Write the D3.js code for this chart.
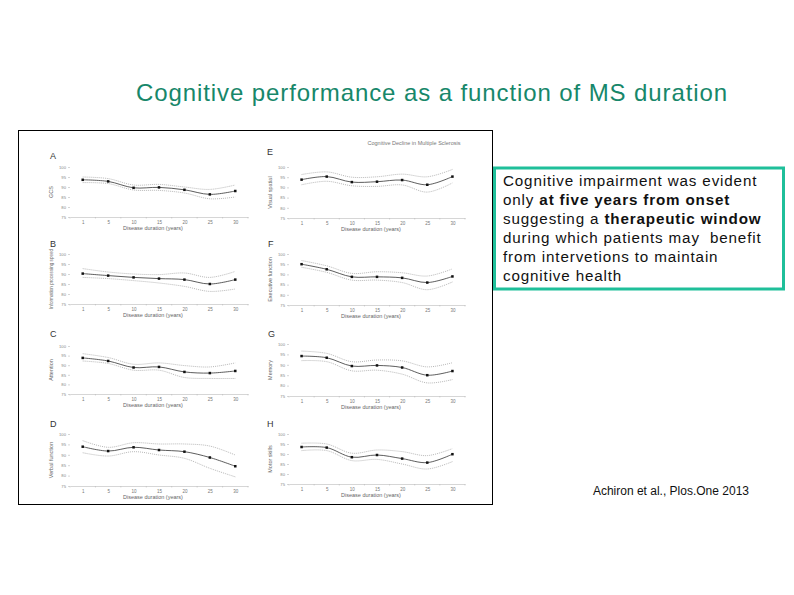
<!DOCTYPE html>
<html>
<head>
<meta charset="utf-8">
<script src="https://cdn.jsdelivr.net/npm/d3@7"></script>
<style>
  body { margin: 0; background: #fff; }
  svg { display: block; font-family: "Liberation Sans", Arial, sans-serif; }
</style>
</head>
<body>
<div id="chart"></div>
<script>
// categories and ticks
const years = ['1', '5', '10', '15', '20', '25', '30'];
const yTicks = [75, 80, 85, 90, 95, 100];

// A - global cognitive score
const gcsMean = [93.6, 92.8, 89.6, 89.8, 88.6, 86.3, 88.0];
const gcsUpper = [95.0, 94.2, 91.0, 91.3, 90.0, 88.8, 91.0];
const gcsLower = [92.2, 91.7, 88.5, 88.3, 87.0, 84.1, 85.0];
// B - information processing speed
const ipsMean = [90.2, 89.2, 88.3, 87.7, 87.2, 85.0, 87.2];
const ipsUpper = [92.7, 91.0, 90.0, 89.7, 90.5, 88.3, 91.3];
const ipsLower = [88.3, 87.7, 86.7, 85.5, 83.8, 81.3, 82.5];
// C - attention
const attMean = [93.8, 92.2, 88.8, 89.1, 86.5, 85.9, 87.0];
const attUpper = [96.0, 94.0, 90.5, 91.2, 89.8, 89.1, 91.2];
const attLower = [92.2, 90.9, 87.4, 87.4, 83.6, 83.1, 83.1];
// D - verbal function
const verMean = [93.9, 91.8, 93.6, 92.3, 91.5, 88.7, 84.5];
const verUpper = [96.8, 93.6, 95.8, 95.2, 95.2, 94.2, 89.9];
const verLower = [91.0, 89.4, 91.5, 89.9, 88.3, 83.5, 79.4];
// E - visual spatial
const visMean = [93.8, 95.3, 92.6, 92.8, 93.6, 91.3, 95.3];
const visUpper = [96.3, 97.6, 95.0, 95.2, 96.5, 95.2, 98.8];
const visLower = [91.3, 93.0, 90.8, 90.5, 91.2, 87.7, 92.2];
// F - executive function
const exeMean = [95.0, 92.5, 88.8, 88.8, 88.3, 86.0, 89.0];
const exeUpper = [96.8, 94.2, 90.5, 91.3, 90.8, 89.2, 92.7];
const exeLower = [93.5, 91.0, 87.2, 87.2, 86.0, 82.5, 86.3];
// G - memory
const memMean = [94.2, 93.4, 89.4, 89.7, 88.7, 85.0, 87.0];
const memUpper = [96.6, 95.5, 91.5, 92.3, 91.9, 89.0, 91.0];
const memLower = [92.0, 91.5, 87.1, 87.4, 85.5, 81.3, 82.9];
// H - motor skills
const motMean = [93.5, 93.2, 88.4, 89.5, 87.7, 85.7, 89.9];
const motUpper = [95.4, 95.0, 90.4, 92.0, 91.2, 89.2, 92.7];
const motLower = [91.7, 91.7, 86.7, 87.3, 85.0, 82.5, 86.2];

const W = 794, H = 595;

const svg = d3.select('#chart').append('svg')
    .attr('width', W)
    .attr('height', H);

// slide title
svg.append('text')
    .attr('x', 432)
    .attr('y', 101)
    .attr('text-anchor', 'middle')
    .style('font-size', '24px')
    .style('letter-spacing', '0.9px')
    .style('fill', '#17876a')
    .text('Cognitive performance as a function of MS duration');

// figure frame
svg.append('rect')
    .attr('x', 18.5).attr('y', 130.5)
    .attr('width', 474).attr('height', 374)
    .attr('fill', '#fff')
    .attr('stroke', '#000')
    .attr('stroke-width', 1);

svg.append('text')
    .attr('x', 414).attr('y', 145)
    .attr('text-anchor', 'middle')
    .style('font-size', '5.5px')
    .style('fill', '#777')
    .text('Cognitive Decline in Multiple Sclerosis');

const panels = [
    { id: 'A', label: 'GCS', mean: gcsMean, upper: gcsUpper, lower: gcsLower, x0: 70, x1: 248, yTop: 167, yBot: 217, lx: 50, ly: 159 },
    { id: 'B', label: 'Information processing speed', mean: ipsMean, upper: ipsUpper, lower: ipsLower, x0: 70, x1: 248, yTop: 254, yBot: 304, lx: 50, ly: 247 },
    { id: 'C', label: 'Attention', mean: attMean, upper: attUpper, lower: attLower, x0: 70, x1: 248, yTop: 346, yBot: 394, lx: 50, ly: 337 },
    { id: 'D', label: 'Verbal function', mean: verMean, upper: verUpper, lower: verLower, x0: 70, x1: 248, yTop: 434, yBot: 486, lx: 50, ly: 427 },
    { id: 'E', label: 'Visual spatial', mean: visMean, upper: visUpper, lower: visLower, x0: 289, x1: 465, yTop: 167, yBot: 218, lx: 267, ly: 155 },
    { id: 'F', label: 'Executive function', mean: exeMean, upper: exeUpper, lower: exeLower, x0: 289, x1: 465, yTop: 254, yBot: 305, lx: 268, ly: 247 },
    { id: 'G', label: 'Memory', mean: memMean, upper: memUpper, lower: memLower, x0: 289, x1: 465, yTop: 344, yBot: 396, lx: 268, ly: 337 },
    { id: 'H', label: 'Motor skills', mean: motMean, upper: motUpper, lower: motLower, x0: 289, x1: 465, yTop: 434, yBot: 484, lx: 267, ly: 427 }
];

panels.forEach(drawPanel);

function drawPanel(p) {
    const g = svg.append('g');
    const xScale = d3.scalePoint().domain(years).range([p.x0, p.x1]).padding(0.5);
    const yScale = d3.scaleLinear().domain([75, 100]).range([p.yBot, p.yTop]);
    const step = xScale.step();

    // panel letter
    g.append('text')
        .attr('x', p.lx).attr('y', p.ly)
        .style('font-size', '9px')
        .style('fill', '#333')
        .text(p.id);

    // x axis with ticks between categories
    const xaxis = d3.axisBottom(xScale).tickSize(0).tickPadding(4);
    const xg = g.append('g')
        .attr('transform', `translate(0,${p.yBot})`)
        .call(xaxis);
    xg.select('.domain').attr('stroke', '#bbb').attr('stroke-width', 0.6);
    xg.selectAll('text').style('font-size', '4.5px').style('fill', '#777').attr('font-family', null);
    d3.range(years.length + 1).forEach(i => {
        xg.append('line')
            .attr('x1', p.x0 + i * step).attr('x2', p.x0 + i * step)
            .attr('y1', 0).attr('y2', 1.5)
            .attr('stroke', '#bbb').attr('stroke-width', 0.6);
    });

    // y axis
    const yaxis = d3.axisLeft(yScale).tickValues(yTicks).tickSize(2).tickPadding(2);
    const yg = g.append('g')
        .attr('transform', `translate(${p.x0},0)`)
        .call(yaxis);
    yg.select('.domain').remove();
    yg.selectAll('line').attr('stroke', '#bbb').attr('stroke-width', 0.6);
    yg.selectAll('text').style('font-size', '4.2px').style('fill', '#888').attr('font-family', null);

    // y label
    g.append('text')
        .attr('transform', `translate(${p.x0 - 17},${(p.yTop + p.yBot) / 2}) rotate(-90)`)
        .attr('text-anchor', 'middle')
        .style('font-size', p.label.length > 20 ? '4.6px' : '5.5px')
        .style('fill', '#666')
        .text(p.label);

    // x label
    g.append('text')
        .attr('x', (p.x0 + p.x1) / 2 - 6)
        .attr('y', p.yBot + 13)
        .attr('text-anchor', 'middle')
        .style('font-size', '5.5px')
        .style('fill', '#666')
        .text('Disease duration (years)');

    const line = d3.line()
        .x((d, i) => xScale(years[i]))
        .y(d => yScale(d))
        .curve(d3.curveCatmullRom.alpha(0.5));

    // confidence band lines
    [p.upper, p.lower].forEach(s => {
        g.append('path')
            .datum(s)
            .attr('fill', 'none')
            .attr('stroke', '#999')
            .attr('stroke-width', 0.7)
            .attr('stroke-dasharray', '1,1')
            .attr('d', line);
    });

    // mean line
    g.append('path')
        .datum(p.mean)
        .attr('fill', 'none')
        .attr('stroke', '#333')
        .attr('stroke-width', 0.8)
        .attr('d', line);

    g.selectAll('.pt')
        .data(p.mean)
        .join('rect')
        .attr('x', (d, i) => xScale(years[i]) - 1.25)
        .attr('y', d => yScale(d) - 1.25)
        .attr('width', 2.5).attr('height', 2.5)
        .attr('fill', '#111');
}

// text box
svg.append('rect')
    .attr('x', 494.5).attr('y', 168)
    .attr('width', 289).attr('height', 121)
    .attr('fill', '#fff')
    .attr('stroke', '#1fbf9a')
    .attr('stroke-width', 3);

const boxLines = [
    [['Cognitive impairment was evident', false]],
    [['only ', false], ['at five years from onset', true]],
    [['suggesting a ', false], ['therapeutic window', true]],
    [['during which patients may  benefit', false]],
    [['from intervetions to maintain', false]],
    [['cognitive health', false]]
];

const tb = svg.append('text')
    .attr('x', 503)
    .attr('y', 186)
    .style('font-size', '15.2px')
    .style('letter-spacing', '0.85px')
    .style('fill', '#111')
    .attr('xml:space', 'preserve');

boxLines.forEach((ln, i) => {
    ln.forEach((part, j) => {
        const t = tb.append('tspan').text(part[0]);
        if (j === 0) t.attr('x', 503).attr('dy', i === 0 ? 0 : 19);
        if (part[1]) t.style('font-weight', 'bold');
    });
});

// citation
svg.append('text')
    .attr('x', 749)
    .attr('y', 495)
    .attr('text-anchor', 'end')
    .style('font-size', '12px')
    .style('fill', '#111')
    .text('Achiron et al., Plos.One 2013');
</script>
</body>
</html>
